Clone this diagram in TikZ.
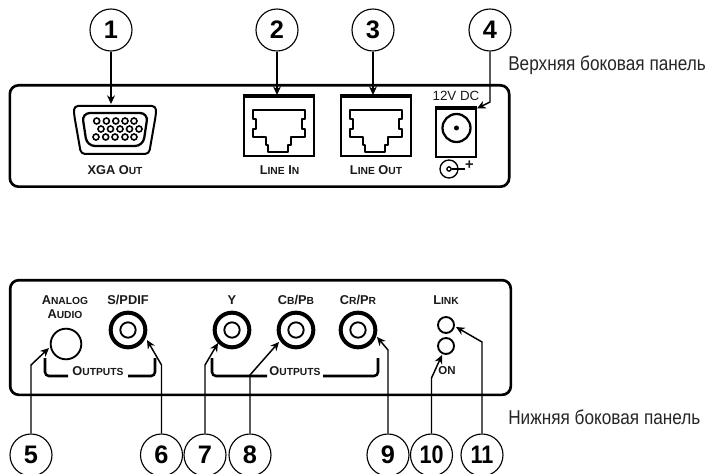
\documentclass[tikz,border=0pt]{standalone}
\usepackage{fontspec}
\usepackage{graphicx}
\setmainfont{Liberation Sans}
\newfontfamily\narrowfont[FakeStretch=0.86]{Liberation Sans}
\usetikzlibrary{arrows.meta}
\newcommand{\lbl}[1]{\fontsize{9.6}{11}\selectfont\bfseries #1}
\newcommand{\sm}[1]{{\fontsize{7.7}{9}\selectfont #1}}
\tikzset{
  num/.style={draw,circle,minimum size=31.5pt,inner sep=0pt,line width=.85pt,fill=white,font=\fontsize{19}{19}\selectfont\bfseries},
  panel/.style={draw,line width=2pt,rounded corners=6.5pt},
  arr/.style={line width=1.1pt,-{Stealth[length=6.5pt,width=6pt]}},
  lab/.style={inner sep=0pt,text=black!90},
  side/.style={inner sep=0pt,anchor=west,font=\narrowfont\fontsize{15}{17}\selectfont,text=black!85},
  jack/.style={draw,circle,line width=3pt,minimum size=26pt,inner sep=0pt},
  ring/.style={draw,circle,line width=1.4pt,minimum size=11.5pt,inner sep=0pt},
  led/.style={draw,circle,line width=1.4pt,minimum size=12pt,inner sep=0pt},
  pin/.style={draw,circle,line width=1.2pt,minimum size=4.5pt,inner sep=0pt},
  brk/.style={line width=1.9pt,rounded corners=3pt}
}
\newcommand{\rj}[1]{%
  \begin{scope}[xshift=#1*.75pt]
    \draw[line width=1.8pt] (244,96) rectangle (314,156);
    \draw[line width=3pt] (243,96) -- (315,96);
    \draw[line width=1.5pt,line join=round] (253,110) -- (305,110) -- (305,119) -- (302,119) -- (302,129) -- (305,129) -- (305,137) -- (291,137) -- (291,145) -- (288,145) -- (288,152) -- (268,152) -- (268,145) -- (266,145) -- (266,137) -- (253,137) -- (253,129) -- (256,129) -- (256,119) -- (253,119) -- cycle;
    \draw[line width=2pt] (268,152) -- (288,152);
  \end{scope}}
\begin{document}
\begin{tikzpicture}[x=.75pt,y=-.75pt]
\clip (0,0) rectangle (707,474);
\fill[white] (0,0) rectangle (707,474);
% panels
\node[panel,minimum width=374.5pt,minimum height=76pt,inner sep=0pt] (p1) at (259.5,136) {};
\node[panel,minimum width=375.5pt,minimum height=86pt,inner sep=0pt] (p2) at (260.5,337.5) {};
% number circles
\node[num] (n1) at (111,30) {1};
\node[num] (n2) at (277,30) {2};
\node[num] (n3) at (373,30) {3};
\node[num] (n4) at (490,30) {4};
\node[num] (n5) at (31,455) {5};
\node[num] (n6) at (161.5,455) {6};
\node[num] (n7) at (205,455) {7};
\node[num] (n8) at (250,455) {8};
\node[num] (n9) at (388,455) {9};
\node[num] (n10) at (431.5,455) {\scalebox{.85}[1]{10}};
\node[num] (n11) at (482,455) {\scalebox{.85}[1]{11}};
% VGA
\draw[line width=1.5pt,line join=round,rounded corners=3pt] (74,106) -- (156,106) -- (156,114) -- (149,154) -- (81,154) -- (74,114) -- cycle;
\draw[line width=1.7pt,rounded corners=6pt] (82,113) -- (148,113) -- (143,146) -- (87,146) -- cycle;
\foreach \i/\x in {a/96.7,b/106.4,c/115.8,d/125,e/134}{\node[pin] (r1\i) at (\x,121) {};}
\foreach \i/\x in {a/101,b/110.5,c/120,d/129.5,e/139}{\node[pin] (r2\i) at (\x,129) {};}
\foreach \i/\x in {a/96,b/105.7,c/115,d/125,e/134}{\node[pin] (r3\i) at (\x,137) {};}
\node[lab] (xga) at (115,170) {\lbl{XGA O\sm{UT}}};
% RJ45
\rj{0}
\rj{97}
\node[lab] (li) at (279.5,170) {\lbl{L\sm{INE} I\sm{N}}};
\node[lab] (lo) at (376,170) {\lbl{L\sm{INE} O\sm{UT}}};
% power
\draw[line width=1.8pt] (436,108) rectangle (476,157);
\draw[line width=2.6pt] (435,108) -- (477,108);
\node[draw,circle,line width=1.7pt,minimum size=21pt,inner sep=0pt] (pj) at (456.5,128) {};
\fill (pj.center) circle (2.5);
\node[lab] (dc) at (456,96) {\fontsize{10}{11}\selectfont 12V DC};
\node[draw,circle,line width=1pt,minimum size=13.5pt,inner sep=0pt] (ps) at (449,169) {};
\node[draw,circle,line width=1pt,minimum size=3.2pt,inner sep=0pt] (psd) at (449,169) {};
\coordinate (pe) at (465,169);
\draw[line width=1pt] (psd) -- (pe);
\node[lab] (plus) at (469.5,165) {\fontsize{11}{11}\selectfont\bfseries +};
% bottom connectors
\node[draw,circle,line width=1.4pt,minimum size=23pt,inner sep=0pt] (aa) at (66,344) {};
\foreach \n/\x in {sp/128,y/232,cb/296,cr/358}{
  \node[jack] (j\n) at (\x,330) {};
  \node[ring] (i\n) at (\x,330) {};
}
\node[led] (link) at (446,325) {};
\node[led] (on) at (446,346) {};
% bottom labels
\node[lab] (t1) at (65,300) {\lbl{A\sm{NALOG}}};
\node[lab] (t2) at (65,314) {\lbl{A\sm{UDIO}}};
\node[lab] (t3) at (128,300) {\lbl{S/PDIF}};
\node[lab] (t4) at (232,300) {\lbl{Y}};
\node[lab] (t5) at (296,300) {\lbl{C\sm{B}/P\sm{B}}};
\node[lab] (t6) at (358,300) {\lbl{C\sm{R}/P\sm{R}}};
\node[lab] (t7) at (446,300) {\lbl{L\sm{INK}}};
\node[lab] (t8) at (447,371) {\fontsize{8.6}{10}\selectfont\bfseries ON};
\node[lab] (o1) at (98,371) {\lbl{O\sm{UTPUTS}}};
\node[lab] (o2) at (295,371) {\lbl{O\sm{UTPUTS}}};
% brackets
\draw[brk] (45,358) -- (45,376) -- (68,376);
\draw[brk] (128,376) -- (155,376) -- (155,358);
\draw[brk] (212,358) -- (212,376) -- (267,376);
\draw[brk] (323,376) -- (378,376) -- (378,358);
% side captions
\node[side] (s1) at (508,65) {Верхняя боковая панель};
\node[side] (s2) at (508,417) {Нижняя боковая панель};
% targets
\coordinate (a1) at (111,104);
\coordinate (a2) at (277,95);
\coordinate (a3) at (373,95);
\coordinate (k4) at (490,102);
\coordinate (a4) at (477,108.5);
\coordinate (k5) at (31,365);  \coordinate (a5) at (49,348);
\coordinate (k6) at (161.5,365); \coordinate (a6) at (147,340);
\coordinate (k7) at (205,365); \coordinate (a7) at (218,343);
\coordinate (k8) at (250,375); \coordinate (a8) at (279,342);
\coordinate (k9) at (388,350); \coordinate (a9) at (377,337);
\coordinate (k10) at (431.5,378); \coordinate (a10) at (442,355);
\coordinate (k11) at (482,342); \coordinate (a11) at (456,327);
\draw[arr] (n1) -- (a1);
\draw[arr] (n2) -- (a2);
\draw[arr] (n3) -- (a3);
\draw[arr] (n4) -- (k4) -- (a4);
\foreach \i in {5,...,11}{\draw[arr] (n\i) -- (k\i) -- (a\i);}
\end{tikzpicture}
\end{document}
